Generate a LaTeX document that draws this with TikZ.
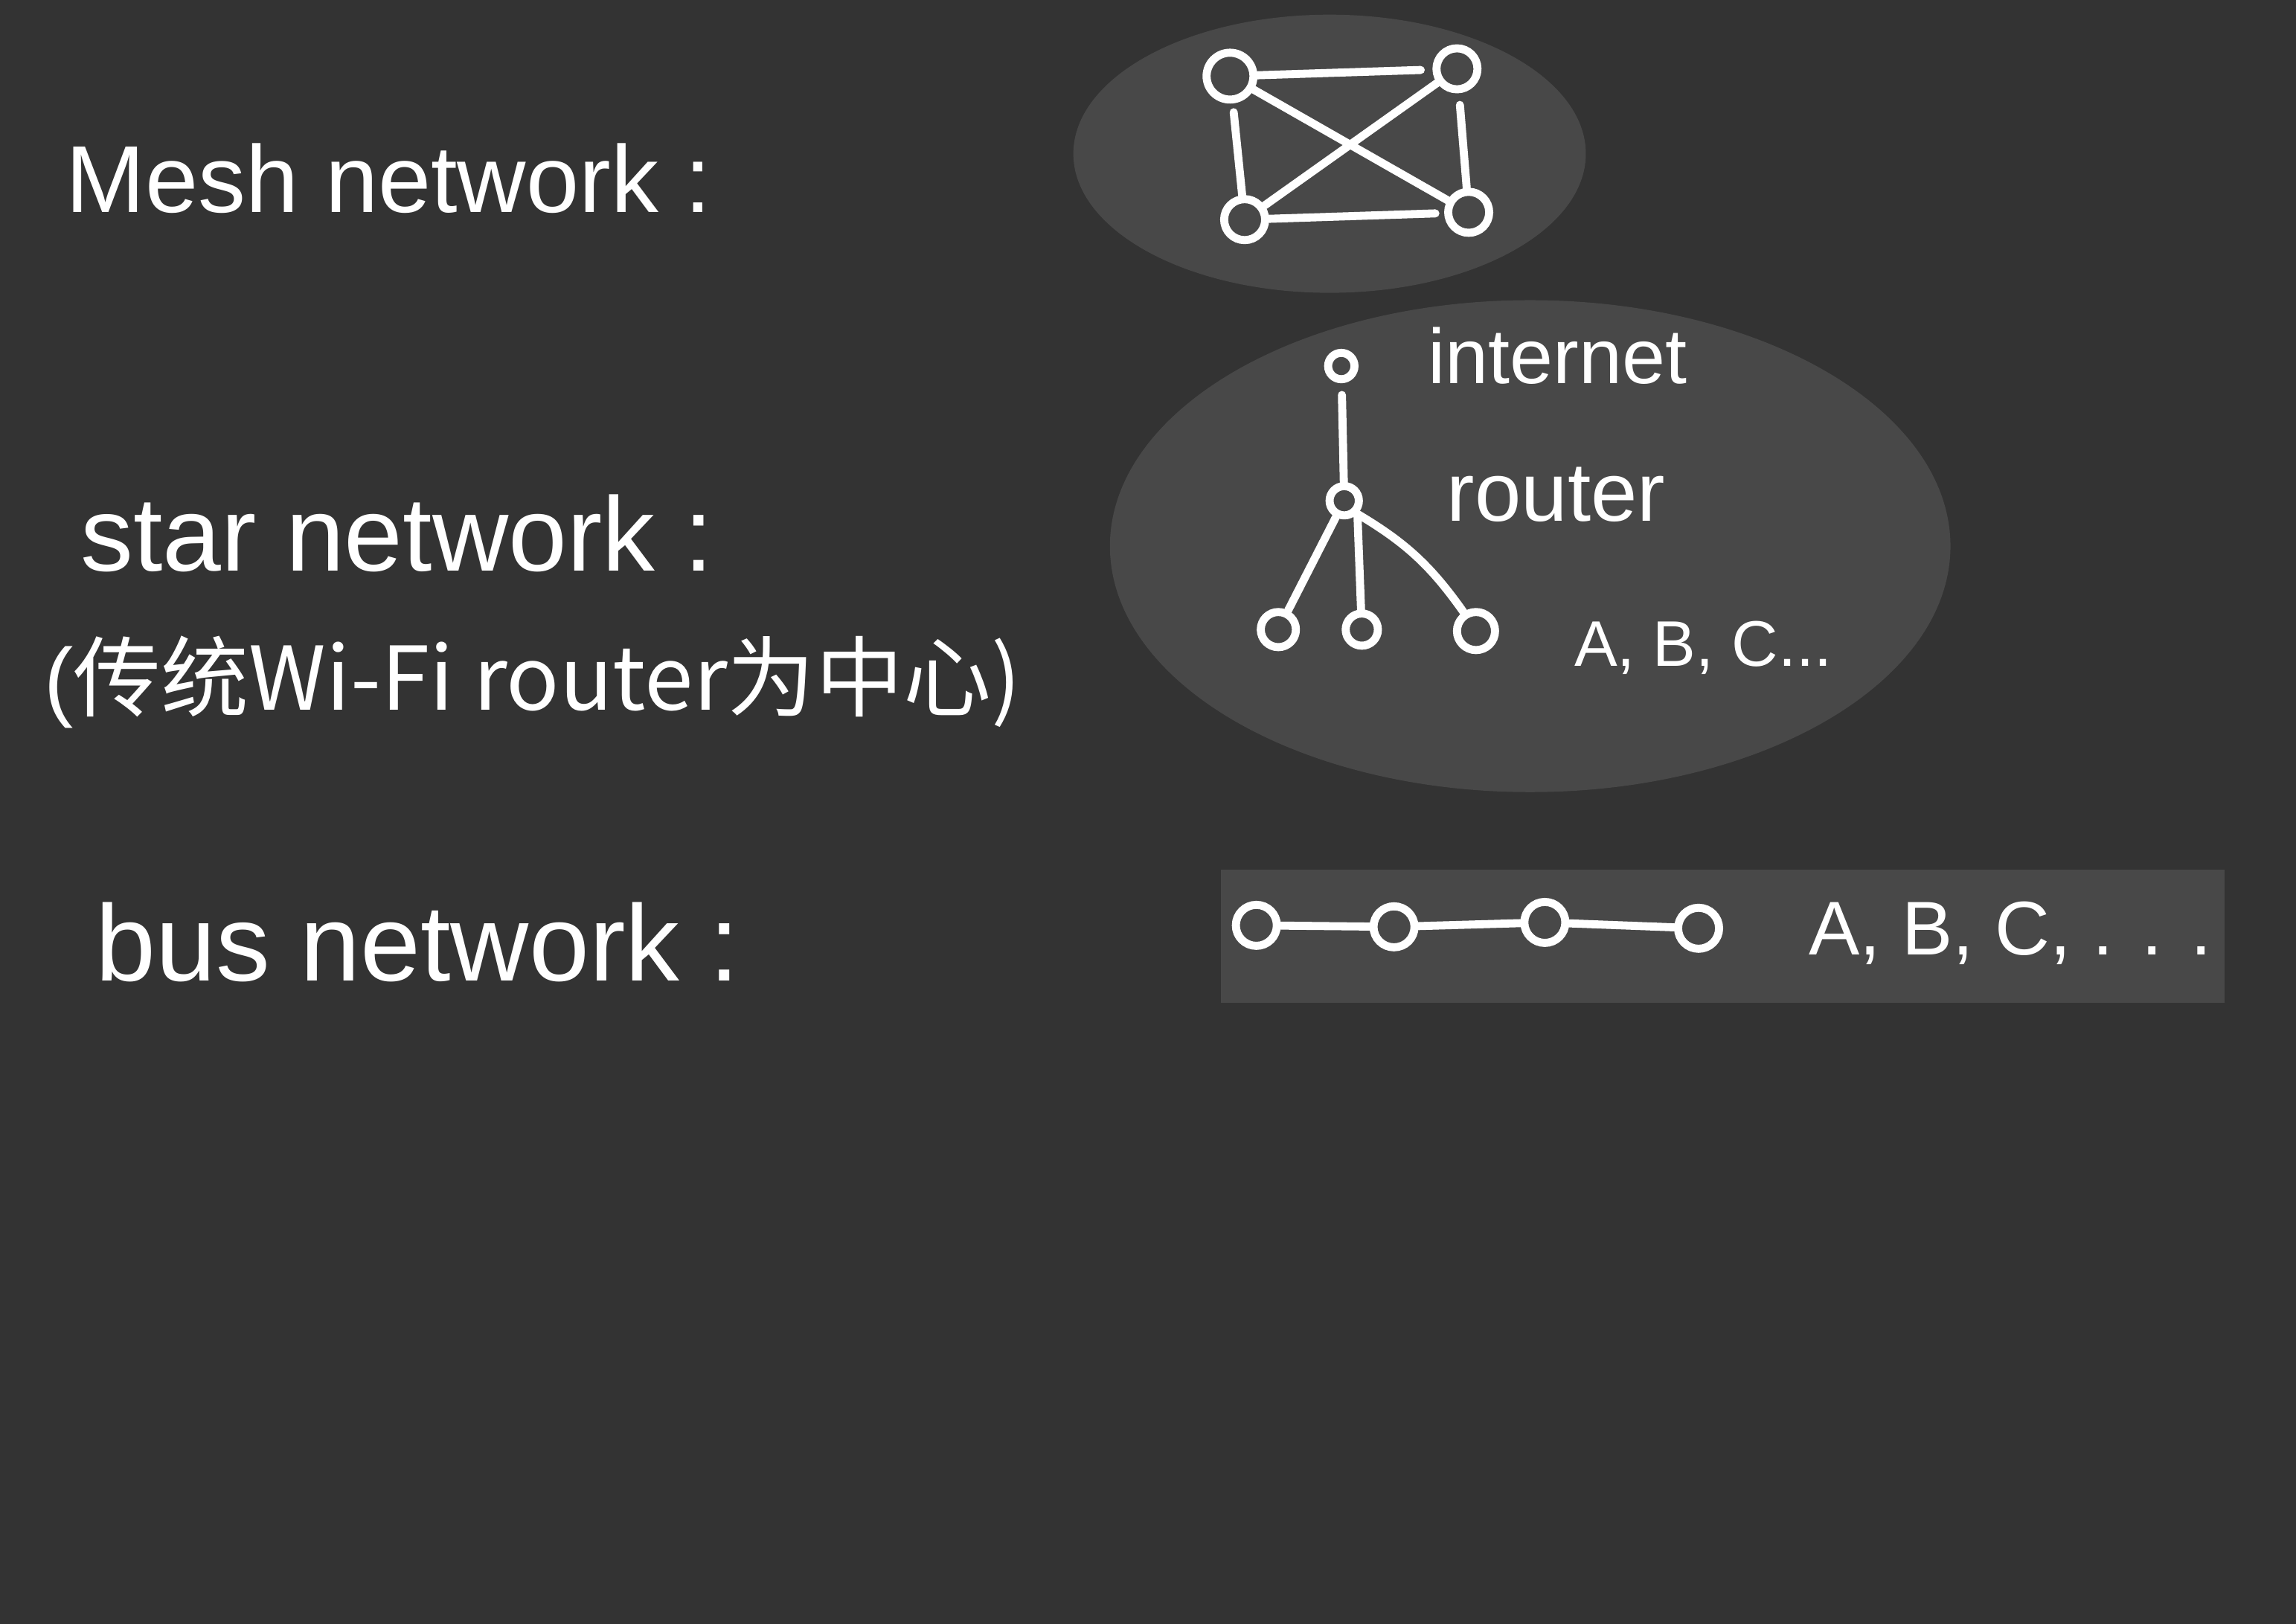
\documentclass[tikz,border=0pt]{standalone}
\usepackage{fontspec}
\setmainfont{Liberation Sans}
\newfontfamily\cjk{Noto Sans CJK SC}
\definecolor{bgc}{HTML}{333333}
\definecolor{panel}{HTML}{484848}
\begin{document}
\begin{tikzpicture}[x=1pt,y=-1pt,
  nd/.style={circle,draw=white,line width=5.5pt,inner sep=0pt,minimum size=#1},
  nd/.default=24pt,
  link/.style={draw=white,line width=5.5pt,line cap=round},
  lbl/.style={text=white,inner sep=0pt,anchor=base west}]
\path[fill=bgc,use as bounding box] (0,0) rectangle (1568,1109);
% panels
\fill[panel] (908,105) ellipse [x radius=175, y radius=95];
\fill[panel] (1045,373) ellipse [x radius=287, y radius=168];
\fill[panel] (834,594) rectangle (1519,685);
% left titles
\node[lbl,font=\fontsize{65}{70}\selectfont] (mesh) at (45,145) {Mesh network :};
\node[lbl,font=\fontsize{72}{76}\selectfont] (star) at (55,390) {star network :};
\node[lbl,font=\fontsize{60}{64}\selectfont] (starsub) at (30,485) {(\cjk{传统}Wi-Fi router\cjk{为中心})};
\node[lbl,font=\fontsize{74}{78}\selectfont] (bus) at (65,670) {bus network :};
% mesh topology
\node[nd=32pt] (ma) at (840,52) {};
\node[nd=28pt] (mb) at (995,47) {};
\node[nd=28pt] (mc) at (850,150) {};
\node[nd=28pt] (md) at (1003,145) {};
\draw[link,shorten >=8pt] (ma) -- (mb);
\draw[link,shorten <=6pt] (ma) -- (mc);
\draw[link,shorten <=8pt] (mb) -- (md);
\draw[link,shorten >=6pt] (mc) -- (md);
\draw[link] (ma) -- (md);
\draw[link] (mc) -- (mb);
% star topology
\node[nd=18pt] (inet) at (916,250) {};
\node[nd=20pt] (rt) at (918,342) {};
\node[nd=24pt] (sa) at (873,430) {};
\node[nd=22pt] (sb) at (930,430) {};
\node[nd=26pt] (sc) at (1008,431) {};
\draw[link,shorten <=8pt] (inet) -- (rt);
\draw[link] (rt) -- (sa);
\draw[link] (rt.south east) -- (sb);
\draw[link] (rt.south east) to[bend left=12] (sc);
\node[lbl,font=\fontsize{53}{56}\selectfont] (linet) at (975,262) {internet};
\node[lbl,font=\fontsize{57}{60}\selectfont] (lrt) at (988,356) {router};
\node[lbl,font=\fontsize{44}{48}\selectfont] (lsc) at (1075,455) {A, B, C...};
% bus topology
\node[nd=28pt] (ba) at (858,632) {};
\node[nd=28pt] (bb) at (952,633) {};
\node[nd=28pt] (bc) at (1055,630) {};
\node[nd=28pt] (bd) at (1160,634) {};
\draw[link] (ba) -- (bb);
\draw[link] (bb) -- (bc);
\draw[link] (bc) -- (bd);
\node[lbl,font=\fontsize{52}{56}\selectfont] (lbus) at (1235,652) {A, B, C, . . .};
\end{tikzpicture}
\end{document}
